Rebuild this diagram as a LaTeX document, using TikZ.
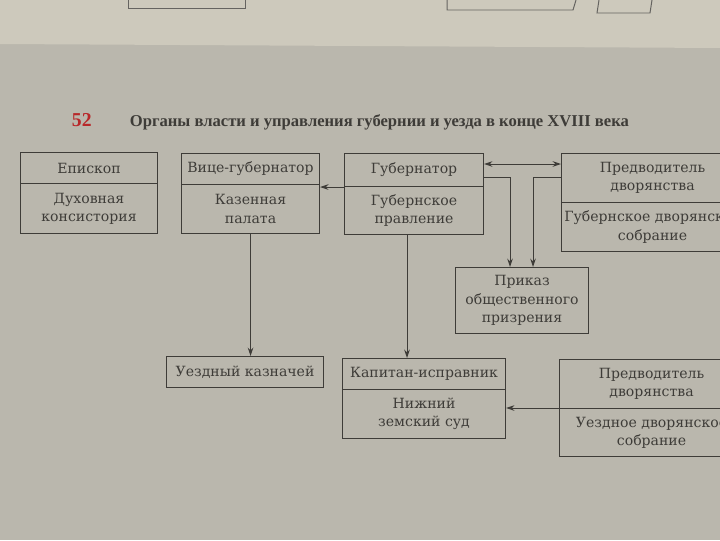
\documentclass[tikz,border=0pt]{standalone}
\usepackage{fontspec}
\setmainfont{DejaVu Serif}
\newfontfamily\titlefont{Liberation Serif}
\usetikzlibrary{arrows.meta,calc}
\definecolor{pagebg}{HTML}{BAB7AD}
\definecolor{stripbg}{HTML}{CDC9BC}
\definecolor{ink}{HTML}{3E3C38}
\definecolor{numred}{HTML}{B8282A}
\newcommand\PX{0.025cm}
\tikzset{
  part/.style={draw=ink, line width=0.75pt, rectangle, inner sep=0pt, anchor=north west,
    align=center, text=ink, font=\fontsize{10}{13}\selectfont},
  conn/.style={draw=ink, line width=0.7pt, -{Stealth[length=6pt,width=4pt]}},
  connboth/.style={draw=ink, line width=0.7pt, {Stealth[length=6pt,width=4pt]}-{Stealth[length=6pt,width=4pt]}},
  frag/.style={draw=ink!80, line width=0.7pt}
}
\begin{document}
\begin{tikzpicture}[x=0.025cm,y=-0.025cm]
\useasboundingbox (0,0) rectangle (720,540);
\clip (0,0) rectangle (720,540);
\fill[pagebg] (0,0) rectangle (720,540);
\fill[stripbg] (0,0) -- (720,0) -- (720,48) -- (0,44) -- cycle;
% fragments of the previous page
\draw[frag] (128,0) -- (128,8) -- (245,8) -- (245,0);
\draw[frag] (447,0) -- (447,10) -- (573,10) -- (576,0);
\draw[frag] (599,0) -- (597,13) -- (650,13) -- (652,0);

\node[anchor=west, text=numred, font=\titlefont\bfseries\fontsize{14}{16}\selectfont] (num) at (67,120) {52};
\node[anchor=west, text=ink, font=\titlefont\bfseries\fontsize{11.8}{13}\selectfont] (title) at (125,122)
  {Органы власти и управления губернии и уезда в конце XVIII века};

% guberniya level
\node[part, minimum width=137*\PX, minimum height=31*\PX] (Atop) at (20,152) {Епископ};
\node[part, minimum width=137*\PX, minimum height=50*\PX] (Abot) at (20,183) {Духовная\\консистория};

\node[part, minimum width=138*\PX, minimum height=31*\PX] (Btop) at (181,153) {Вице-губернатор};
\node[part, minimum width=138*\PX, minimum height=49*\PX] (Bbot) at (181,184) {Казенная\\палата};

\node[part, minimum width=139*\PX, minimum height=33*\PX] (Ctop) at (344,153) {Губернатор};
\node[part, minimum width=139*\PX, minimum height=48*\PX] (Cbot) at (344,186) {Губернское\\правление};

\node[part, minimum width=182*\PX, minimum height=49*\PX] (Dtop) at (561,153) {Предводитель\\дворянства};
\node[part, minimum width=182*\PX, minimum height=49*\PX] (Dbot) at (561,202) {Губернское дворянское\\собрание};

\node[part, minimum width=133*\PX, minimum height=66*\PX] (E) at (455,267) {Приказ\\общественного\\призрения};

% uezd level
\node[part, minimum width=157*\PX, minimum height=31*\PX] (F) at (166,356) {Уездный казначей};

\node[part, minimum width=163*\PX, minimum height=31*\PX] (Gtop) at (342,358) {Капитан-исправник};
\node[part, minimum width=163*\PX, minimum height=49*\PX] (Gbot) at (342,389) {Нижний\\земский суд};

\node[part, minimum width=184*\PX, minimum height=49*\PX] (Htop) at (559,359) {Предводитель\\дворянства};
\node[part, minimum width=184*\PX, minimum height=48*\PX] (Hbot) at (559,408) {Уездное дворянское\\собрание};

% connectors
\draw[conn] (Ctop.south west) -- (Ctop.south west -| Bbot.east);
\coordinate (cd) at ($(Ctop.north east)+(0,11)$);
\draw[connboth] (cd) -- (cd -| Dtop.west);
\coordinate (ce) at ($(Ctop.north east)+(0,24)$);
\coordinate (eL) at ($(E.north)+(-12,0)$);
\draw[conn] (ce) -| (eL);
\coordinate (de) at ($(Dtop.north west)+(0,24)$);
\coordinate (eR) at ($(E.north)+(11,0)$);
\draw[conn] (de) -| (eR);
\draw[conn] (Bbot.south) -- (Bbot.south |- F.north);
\coordinate (cg) at ($(Cbot.south west)+(63,0)$);
\draw[conn] (cg) -- (cg |- Gtop.north);
\draw[conn] (Hbot.north west) -- (Hbot.north west -| Gbot.east);
\end{tikzpicture}
\end{document}
